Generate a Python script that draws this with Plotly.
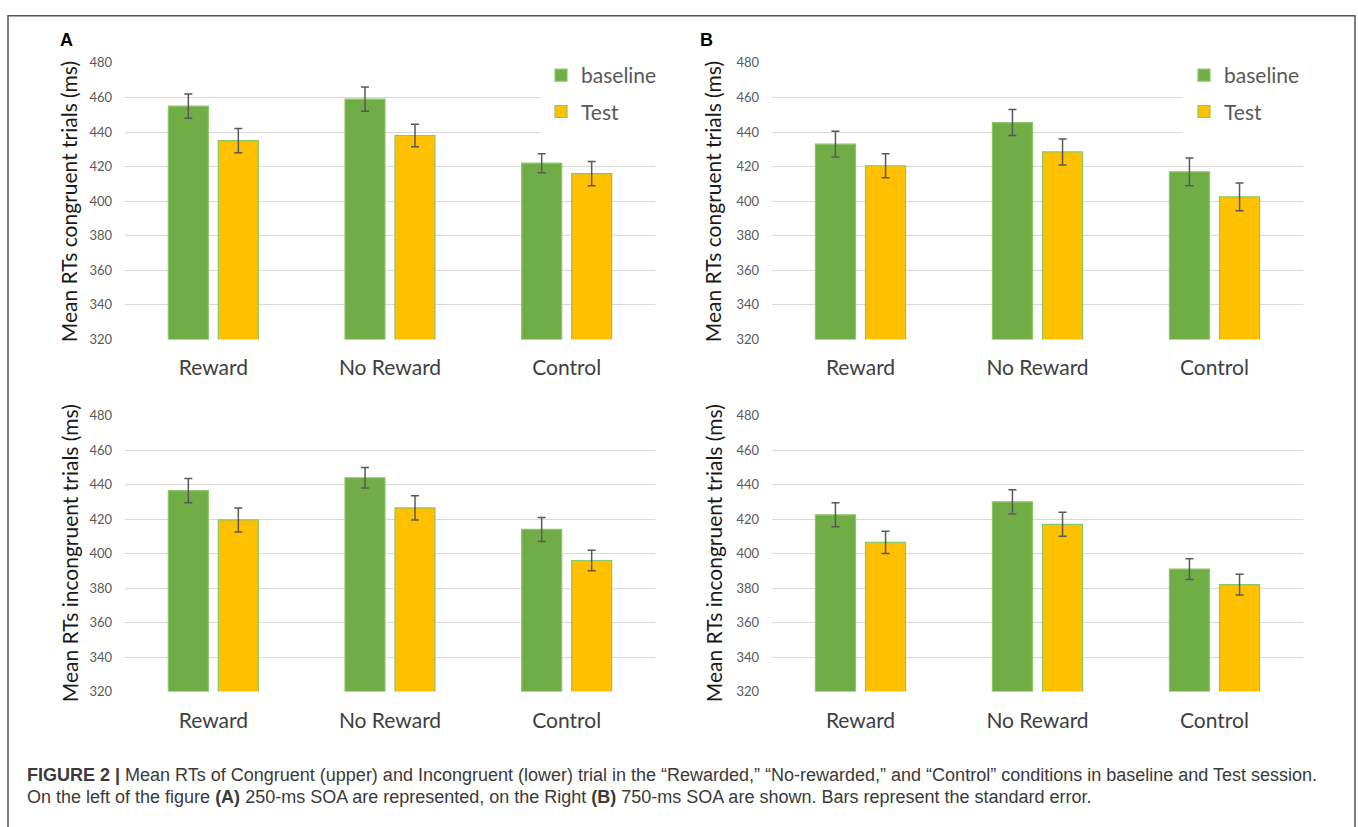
import plotly.graph_objects as go

W, H = 1358, 827

categories = ["Reward", "No Reward", "Control"]

# Panel A (250-ms SOA)
a_cong_base = [455, 459, 422]
a_cong_base_se = [7, 7, 5.5]
a_cong_test = [435, 438, 416]
a_cong_test_se = [7, 6.5, 7]
a_incong_base = [436.5, 444, 414]
a_incong_base_se = [7, 6, 7]
a_incong_test = [419.5, 426.5, 396]
a_incong_test_se = [7, 7, 6]

# Panel B (750-ms SOA)
b_cong_base = [433, 445.5, 417]
b_cong_base_se = [7.5, 7.5, 8]
b_cong_test = [420.5, 428.5, 402.5]
b_cong_test_se = [7, 7.5, 8]
b_incong_base = [422.5, 430, 391]
b_incong_base_se = [7, 7, 6]
b_incong_test = [406.5, 417, 382]
b_incong_test_se = [6.5, 7, 6]

y_ticks = [320, 340, 360, 380, 400, 420, 440, 460, 480]

GREEN = "#70AD47"
YELLOW = "#FFC000"
OUTLINE = "#8DC667"
ERR = "#595959"
CHART_FONT = "Lato, Carlito, Calibri, Liberation Sans, sans-serif"
CAP_FONT = "Liberation Sans, Arial, Helvetica, sans-serif"

def px_x(p):
    return p / W

def px_y(p):
    return 1 - p / H

fig = go.Figure()

panels = [
    ("x", "y", a_cong_base, a_cong_base_se, a_cong_test, a_cong_test_se, "legend"),
    ("x2", "y2", b_cong_base, b_cong_base_se, b_cong_test, b_cong_test_se, "legend2"),
    ("x3", "y3", a_incong_base, a_incong_base_se, a_incong_test, a_incong_test_se, None),
    ("x4", "y4", b_incong_base, b_incong_base_se, b_incong_test, b_incong_test_se, None),
]

for xa, ya, base, base_se, test, test_se, leg in panels:
    for name, vals, se, col in [("baseline", base, base_se, GREEN), ("Test", test, test_se, YELLOW)]:
        fig.add_trace(go.Bar(
            x=categories, y=vals, name=name,
            xaxis=xa, yaxis=ya,
            marker=dict(color=col, line=dict(color=OUTLINE, width=1.2)),
            error_y=dict(type="data", array=se, color=ERR, thickness=1.5, width=4),
            showlegend=leg is not None,
            legend=leg if leg else "legend",
            legendgroup=name + (leg or ""),
        ))

xdom_a = [px_x(125), px_x(655)]
xdom_b = [px_x(772), px_x(1303)]
ydom_top = [px_y(338), px_y(56)]
ydom_bot = [px_y(697), px_y(415.7)]

def xaxis(dom, anchor):
    return dict(domain=dom, anchor=anchor, type="category", range=[-0.5, 2.5],
                showgrid=False, showline=False, ticks="", zeroline=False,
                tickfont=dict(family=CHART_FONT, size=21, color="#404040"),
                ticklabelstandoff=14)

def yaxis(dom, anchor):
    return dict(domain=dom, anchor=anchor, range=[320, 480], tickvals=y_ticks,
                showgrid=True, gridcolor="#D9D9D9", gridwidth=1,
                showline=False, ticks="", zeroline=False,
                tickfont=dict(family=CHART_FONT, size=13, color="#595959"),
                ticklabelstandoff=12)

legend_font = dict(family=CHART_FONT, size=21, color="#595959")
fig.update_layout(
    width=W, height=H,
    margin=dict(l=0, r=0, t=0, b=0),
    paper_bgcolor="white", plot_bgcolor="white",
    barmode="group", bargap=0.434, bargroupgap=0.2,
    xaxis=xaxis(xdom_a, "y"), yaxis=yaxis(ydom_top, "x"),
    xaxis2=xaxis(xdom_b, "y2"), yaxis2=yaxis(ydom_top, "x2"),
    xaxis3=xaxis(xdom_a, "y3"), yaxis3=yaxis(ydom_bot, "x3"),
    xaxis4=xaxis(xdom_b, "y4"), yaxis4=yaxis(ydom_bot, "x4"),
    legend=dict(x=px_x(541), y=px_y(48), xanchor="left", yanchor="top",
                bgcolor="white", borderwidth=0, tracegroupgap=6, font=legend_font),
    legend2=dict(x=px_x(1184), y=px_y(48), xanchor="left", yanchor="top",
                 bgcolor="white", borderwidth=0, tracegroupgap=6, font=legend_font),
    showlegend=True,
)

annotations = []
for xc, yc, txt in [
    (68, 198, "Mean RTs congruent trials (ms)"),
    (712, 198, "Mean RTs congruent trials (ms)"),
    (69, 556, "Mean RTs incongruent trials (ms)"),
    (713, 556, "Mean RTs incongruent trials (ms)"),
]:
    annotations.append(dict(x=px_x(xc), y=px_y(yc), xref="paper", yref="paper",
                            text=txt, textangle=-90, showarrow=False,
                            xanchor="center", yanchor="middle",
                            font=dict(family=CHART_FONT, size=21, color="#1a1a1a")))
for xc, txt in [(66, "A"), (706, "B")]:
    annotations.append(dict(x=px_x(xc), y=px_y(33), xref="paper", yref="paper",
                            text="<b>%s</b>" % txt, showarrow=False,
                            xanchor="center", yanchor="middle",
                            font=dict(family="Liberation Sans, Arial, sans-serif", size=18, color="black")))
cap1 = ("<b>FIGURE 2 |</b> Mean RTs of Congruent (upper) and Incongruent (lower) trial in the "
        "\u201cRewarded,\u201d \u201cNo-rewarded,\u201d and \u201cControl\u201d conditions in baseline and Test session.")
cap2 = ("On the left of the figure <b>(A)</b> 250-ms SOA are represented, on the Right <b>(B)</b> "
        "750-ms SOA are shown. Bars represent the standard error.")
for yc, txt in [(782, cap1), (805, cap2)]:
    annotations.append(dict(x=px_x(25), y=px_y(yc), xref="paper", yref="paper",
                            text=txt, showarrow=False, xanchor="left", yanchor="middle",
                            font=dict(family=CAP_FONT, size=18, color="#3a3a3a")))
fig.update_layout(annotations=annotations)

# white legend background area hiding the upper gridlines (no bars reach this area)
for xr, yr, x0 in [("x", "y", 1.85), ("x2", "y2", 1.82)]:
    fig.add_shape(type="rect", xref=xr, yref=yr,
                  x0=x0, x1=2.55, y0=433, y1=482,
                  line=dict(width=0), fillcolor="white", layer="above")

fig.add_shape(type="rect", xref="paper", yref="paper",
              x0=px_x(8), x1=px_x(1355), y0=-0.1, y1=px_y(8),
              line=dict(color="#555555", width=1.5), fillcolor="rgba(0,0,0,0)", layer="above")

fig.write_html("out.html", config={"displayModeBar": False},
               post_script="document.body.style.margin='0';document.body.style.overflow='hidden';")
